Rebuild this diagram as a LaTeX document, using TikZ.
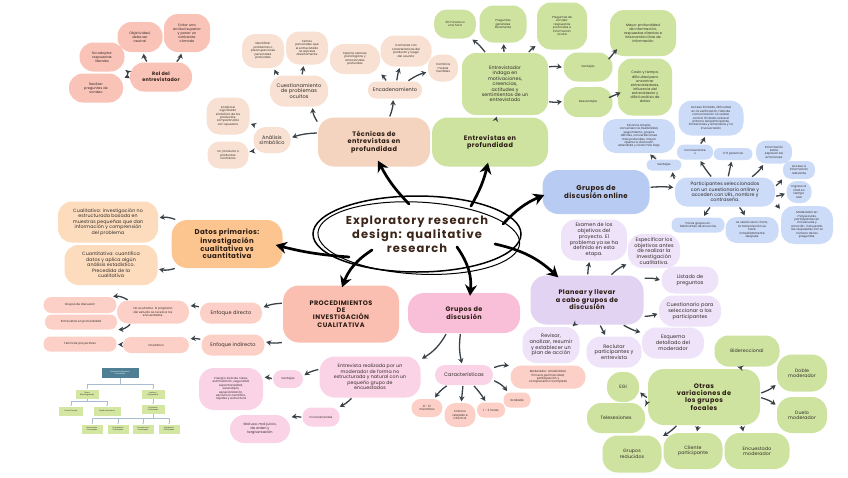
\documentclass[tikz,border=0pt]{standalone}
\usepackage{fontspec}
\setmainfont{Poppins}[LetterSpace=2]
\usetikzlibrary{arrows.meta,calc}
\definecolor{txt}{HTML}{2E2926}
\definecolor{hd}{HTML}{2A1B12}
\definecolor{ctrc}{HTML}{3B2418}
\definecolor{arrowc}{HTML}{3A4146}
\definecolor{salm}{HTML}{FAC3B8}
\definecolor{salmb}{HTML}{FBBFB2}
\definecolor{salml}{HTML}{FDD0C7}
\definecolor{peach}{HTML}{F4D3BF}
\definecolor{peachl}{HTML}{F8E1D3}
\definecolor{grn}{HTML}{CFE3A1}
\definecolor{blu}{HTML}{B8CCF3}
\definecolor{blul}{HTML}{CCDBF8}
\definecolor{org}{HTML}{FCC590}
\definecolor{orgl}{HTML}{FDDCBE}
\definecolor{pnk}{HTML}{F9BFD9}
\definecolor{pnkl}{HTML}{FBD3E6}
\definecolor{lav}{HTML}{E3D3F2}
\definecolor{lavl}{HTML}{EEE3F8}
\definecolor{tealc}{HTML}{4F7F94}
\definecolor{cgrn}{HTML}{D3E6A2}
\definecolor{cline}{HTML}{A9BCD0}
\tikzset{
 box/.style={align=center, inner sep=0.5pt, text=txt},
 tn/.style={font=\fontsize{2.9}{3.4}\selectfont},
 xs/.style={font=\fontsize{3.4}{4.1}\selectfont},
 sm/.style={font=\fontsize{4.7}{5.4}\selectfont},
 md/.style={font=\fontsize{5}{5.8}\selectfont},
 hdr/.style={font=\fontsize{6.5}{7.4}\selectfont\bfseries\addfontfeatures{LetterSpace=6}, text=hd},
 hdrb/.style={font=\fontsize{7}{7.6}\selectfont\bfseries\addfontfeatures{LetterSpace=5}, text=hd},
 hds/.style={font=\fontsize{4.8}{5.9}\selectfont\bfseries\addfontfeatures{LetterSpace=6}, text=hd},
 arr/.style={draw=arrowc, line width=1.3pt, -{Stealth[length=5pt,width=5.5pt]}, shorten >=1.5pt, shorten <=1pt},
 big/.style={draw=black, line width=2.7pt, line cap=round, -{Stealth[length=11pt,width=12pt]}},
 cbox/.style={fill=cgrn, font=\fontsize{1.8}{2.1}\selectfont, align=center, inner sep=0.3pt, text=txt},
 cl/.style={draw=cline, line width=0.5pt, -{Latex[length=1.2pt,width=1.2pt]}},
}
\newcommand\nb[8]{\node[#1,minimum width=#5pt,minimum height=#6pt,rounded corners=#7pt] (#2) at (#3,#4) {#8};}
\begin{document}
\begin{tikzpicture}[x=1pt,y=-1pt]
\fill[white] (0,0) rectangle (848,477);
\useasboundingbox (0,0) rectangle (848,477);

% Rol del entrevistador
\nb{box,fill=salm,hds}{rol}{161}{77}{62}{29}{14}{Rol del\\entrevistador}
\nb{box,fill=salm,xs}{obj}{140}{37}{45}{30}{14}{Objetividad,\\debe ser\\neutral}
\nb{box,fill=salm,xs}{evit}{187}{33}{46}{38}{14}{Evitar una\\actitud superior\\y poner un\\ambiente\\cómodo}
\nb{box,fill=salm,xs}{noad}{102}{57}{45}{29}{14}{No adoptar\\respuestas\\literales}
\nb{box,fill=salm,xs}{real}{96}{88}{54}{29}{14}{Realizar\\preguntas de\\sondeo}

% Tecnicas
\nb{box,fill=peach,hdr}{tec}{374}{142}{112}{49}{16}{Técnicas de\\entrevistas en\\profundidad}
\nb{box,fill=peachl,md}{cues}{299}{91}{58}{31}{14}{Cuestionamiento\\de problemas\\ocultos}
\nb{box,fill=peachl,tn}{ident}{263}{51}{42}{34}{13}{Identificar\\problemas o\\preocupaciones\\personales\\profundas}
\nb{box,fill=peachl,tn}{temas}{307}{48}{42}{33}{13}{Temas\\personales que\\el entrevistado\\no expresa\\abiertamente}
\nb{box,fill=peachl,md}{anal}{272}{140}{37}{26}{12}{Análisis\\simbólico}
\nb{box,fill=peachl,tn}{analiza}{228}{116}{43}{37}{13}{Analiza el\\significado\\simbólico de los\\productos,\\comparándolo\\con opuestos}
\nb{box,fill=peachl,tn}{nopro}{228}{155}{41}{27}{12}{no-producto o\\productos\\contrarios}
\nb{box,fill=peachl,md}{enca}{395}{90}{54}{17}{8}{Encadenamiento}
\nb{box,fill=peachl,tn}{expl}{355}{59}{50}{30}{14}{Explora razones\\psicológicas y\\emocionales\\profundas}
\nb{box,fill=peachl,tn}{comi}{406}{51}{51}{31}{14}{Comienza con\\características del\\producto y luego\\del usuario}
\nb{box,fill=peachl,tn}{comb}{443}{68}{30}{27}{12}{Combina\\mapas\\mentales}

% Entrevistas
\nb{box,fill=grn,hdr}{ent}{490}{142}{116}{49}{16}{Entrevistas en\\profundidad}
\nb{box,fill=grn,sm}{indaga}{505}{84}{86}{62}{14}{Entrevistador\\indaga en\\motivaciones,\\creencias,\\actitudes y\\sentimientos de un\\entrevistado}
\nb{box,fill=grn,tn}{min30}{455}{24}{42}{29}{13}{30 minutos a\\una hora}
\nb{box,fill=grn,tn}{pregen}{503}{24}{47}{37}{14}{Preguntas\\generales\\libremente}
\nb{box,fill=grn,tn}{preson}{562}{26}{50}{47}{14}{Preguntas de\\sondeo:\\respuestas\\profundas e\\información\\oculta}
\nb{box,fill=grn,tn}{vent}{588}{67}{49}{29}{14}{Ventajas}
\nb{box,fill=grn,tn}{desv}{588}{102}{49}{30}{14}{Desventajas}
\nb{box,fill=grn,xs}{mayor}{643}{33}{66}{46}{14}{Mayor profundidad\\de información,\\respuestas directas e\\intercambio libre de\\información}
\nb{box,fill=grn,xs}{costo}{645}{87}{54}{57}{14}{Costo y tiempo,\\dificultad para\\encontrar\\entrevistadores,\\influencia del\\entrevistador y\\difícil análisis de\\datos}

% Online
\nb{box,fill=blu,hdrb}{onl}{596}{192}{107}{44}{16}{Grupos de\\discusión online}
\nb{box,fill=blul,sm}{part}{725}{192}{100}{29}{12}{Participantes seleccionados\\con un cuestionario online y\\acceden con URL, nombre y\\contraseña.}
\nb{box,fill=blul,tn}{ventb}{664}{165}{35}{11}{5}{Ventajas}
\nb{box,fill=blul,tn}{alc}{639}{136}{72}{34}{13}{Alcance amplio,\\conveniencia, flexibilidad,\\seguimiento, grupos\\difíciles, conversaciones\\más profundas, mayor\\apertura, discusión\\extendida y costo más bajo}
\nb{box,fill=blul,tn}{inco}{695}{152}{36}{15}{7}{Inconveniente\\s}
\nb{box,fill=blul,tn}{acc}{711}{118}{65}{35}{13}{Acceso limitado, dificultad\\en la verificación, falta de\\comunicación no verbal,\\control limitado sobre el\\entorno del participante,\\limitaciones y amenazas y no\\involucración}
\nb{box,fill=blul,tn}{cuatro}{733}{154}{39}{12}{6}{4-6 personas}
\nb{box,fill=blul,tn}{info}{774}{152}{36}{23}{10}{Información\\sobre\\expresar las\\emociones}
\nb{box,fill=blul,tn}{accrel}{799}{170}{32}{18}{8}{Acceso a\\información\\relevante}
\nb{box,fill=blul,tn}{ingr}{799}{192}{25}{22}{10}{Ingreso al\\chat en\\tiempo\\real}
\nb{box,fill=blul,tn}{moder}{807}{225}{52}{38}{13}{Moderador en\\mayúsculas,\\participantes en\\minúsculas y\\emoción, incluyendo\\las respuestas con el\\número de las\\preguntas.}
\nb{box,fill=blul,tn}{pocos}{698}{225}{53}{15}{7}{Pocos grupos en\\fabricantes de anuncios}
\nb{box,fill=blul,tn}{sesion}{752}{230}{53}{26}{11}{La sesión dura 1 hora,\\la transcripción se\\hace\\inmediatamente\\después}

% Datos primarios
\nb{box,fill=org,hdrb}{datos}{227}{244}{111}{48}{16}{Datos primarios:\\investigación\\cualitativa vs\\cuantitativa}
\nb{box,fill=orgl,sm}{cual}{108}{222}{100}{41}{14}{Cualitativa: investigación no\\estructurada basada en\\muestras pequeñas que dan\\información y comprensión\\del problema}
\nb{box,fill=orgl,sm}{cuant}{111}{265}{93}{40}{14}{Cuantitativa: cuantifica\\datos y aplica algún\\análisis estadístico.\\Precedida de la\\cualitativa}

% Procedimientos
\nb{box,fill=salmb,hdr}{proc}{341}{314}{116}{57}{16}{PROCEDIMIENTOS\\DE\\INVESTIGACIÓN\\CUALITATIVA}
\nb{box,fill=salml,md}{edir}{231}{313}{62}{21}{10}{Enfoque directo}
\nb{box,fill=salml,md}{eind}{233}{345}{63}{21}{10}{Enfoque indirecto}
\nb{box,fill=salml,tn}{noocu}{153}{312}{72}{23}{11}{No ocultativo. El propósito\\del estudio se revela a los\\encuestados.}
\nb{box,fill=salml,tn}{gdisc}{80}{305}{73}{16}{8}{Grupos de discusión}
\nb{box,fill=salml,tn}{eprof}{81}{322}{72}{15}{7}{Entrevistas en profundidad}
\nb{box,fill=salml,tn}{ocul}{156}{345}{66}{16}{8}{Ocultativo}
\nb{box,fill=salml,tn}{tproy}{80}{344}{73}{15}{7}{Técnicas proyectivas}

% Chart
\node[fill=tealc,text=white,font=\fontsize{1.8}{2.1}\selectfont,align=center,minimum width=37pt,minimum height=10pt,inner sep=0.3pt] (ch0) at (120,373) {Qualitative Research\\Procedures};
\node[cbox,minimum width=23pt,minimum height=9pt] (ch1) at (87,394) {Direct\\(Nondisguised)};
\node[cbox,minimum width=23pt,minimum height=9pt] (ch2) at (153,394) {Indirect\\(Disguised)};
\node[cbox,minimum width=24pt,minimum height=9pt] (ch3) at (71,411) {Focus Groups};
\node[cbox,minimum width=27pt,minimum height=9pt] (ch4) at (107,411) {Depth Interviews};
\node[cbox,minimum width=23pt,minimum height=9pt] (ch5) at (153,409) {Projective\\Techniques};
\node[cbox,minimum width=21pt,minimum height=9pt] (ch6) at (92,429) {Association\\Techniques};
\node[cbox,minimum width=21pt,minimum height=9pt] (ch7) at (118,429) {Completion\\Techniques};
\node[cbox,minimum width=21pt,minimum height=9pt] (ch8) at (143,429) {Construction\\Techniques};
\node[cbox,minimum width=21pt,minimum height=9pt] (ch9) at (169,429) {Expressive\\Techniques};
\draw[cl] (ch0.south) -- ++(0,6) -| (ch1.north);
\draw[cl] (ch0.south) -- ++(0,6) -| (ch2.north);
\draw[cl] (ch1.south) -- ++(0,3) -| (ch3.north);
\draw[cl] (ch1.south) -- ++(0,3) -| (ch4.north);
\draw[cl] (ch2.south) -- (ch5.north);
\draw[cl] (ch5.south) -- ++(0,5) -| (ch6.north);
\draw[cl] (ch5.south) -- ++(0,5) -| (ch7.north);
\draw[cl] (ch5.south) -- ++(0,5) -| (ch8.north);
\draw[cl] (ch5.south) -- ++(0,5) -| (ch9.north);

% Grupos de discusion
\nb{box,fill=pnk,hdr}{gd}{464}{313}{112}{40}{16}{Grupos de\\discusión}
\nb{box,fill=pnkl,sm}{entr}{370}{377}{101}{41}{15}{Entrevista realizada por un\\moderador de forma no\\estructurada y natural con un\\pequeño grupo de\\encuestados}
\nb{box,fill=pnkl,tn}{ventp}{288}{379}{30}{18}{9}{Ventajas}
\nb{box,fill=pnkl,tn}{ener}{231}{389}{64}{42}{15}{Energía, bola de nieve,\\estimulación, seguridad,\\espontaneidad,\\serendipia,\\especialización,\\escrutinio científico,\\rapidez y estructura}
\nb{box,fill=pnkl,tn}{incp}{321}{417}{37}{19}{9}{Inconvenientes}
\nb{box,fill=pnkl,xs}{mal}{260}{429}{60}{28}{14}{Mal uso, mal juicio,\\de orden y\\tergiversación}
\nb{box,fill=pnkl,md}{car}{464}{375}{58}{20}{10}{Características}
\nb{box,fill=salml,tn}{m812}{427}{408}{31}{18}{9}{8 - 12\\miembros}
\nb{box,fill=salml,tn}{ento}{460}{415}{31}{24}{11}{Entorno\\relajado e\\informal}
\nb{box,fill=salml,tn}{h13}{491}{410}{28}{15}{7}{1 - 3 horas}
\nb{box,fill=salml,tn}{grab}{517}{400}{27}{15}{7}{Grabado}
\nb{box,fill=salml,tn}{modam}{548}{377}{75}{23}{11}{Moderador: amabilidad,\\firmeza, permisividad,\\participación y\\comprensión incompleta}

% Planear
\nb{box,fill=lav,hdr}{plan}{587}{300}{113}{49}{16}{Planear y llevar\\a cabo grupos de\\discusión}
\nb{box,fill=lavl,md}{exam}{594}{240}{66}{41}{15}{Examen de los\\objetivos del\\proyecto. El\\problema ya se ha\\definido en esta\\etapa.}
\nb{box,fill=lavl,md}{espe}{654}{251}{52}{34}{14}{Especificar los\\objetivos antes\\de realizar la\\investigación\\cualitativa.}
\nb{box,fill=lavl,md}{list}{690}{280}{57}{27}{13}{Listado de\\preguntas}
\nb{box,fill=lavl,md}{cuest}{690}{311}{62}{31}{14}{Cuestionario para\\seleccionar a los\\participantes}
\nb{box,fill=lavl,md}{esq}{673}{343}{62}{31}{14}{Esquema\\detallado del\\moderador}
\nb{box,fill=lavl,md}{recl}{614}{352}{55}{31}{14}{Reclutar\\participantes y\\entrevista}
\nb{box,fill=lavl,md}{revi}{551}{345}{57}{36}{14}{Revisar,\\analizar, resumir\\y establecer un\\plan de acción}

% Otras variaciones
\nb{box,fill=grn,hdr}{otras}{704}{397}{112}{56}{16}{Otras\\variaciones de\\los grupos\\focales}
\nb{box,fill=grn,sm}{bid}{747}{351}{65}{31}{14}{Bidereccional}
\nb{box,fill=grn,sm}{doble}{802}{373}{50}{37}{15}{Doble\\moderador}
\nb{box,fill=grn,sm}{duelo}{802}{415}{50}{36}{15}{Duelo\\moderador}
\nb{box,fill=grn,sm}{encm}{757}{451}{65}{36}{15}{Encuestado\\moderador}
\nb{box,fill=grn,sm}{clie}{693}{451}{59}{36}{15}{Cliente\\participante}
\nb{box,fill=grn,sm}{grred}{632}{454}{59}{37}{15}{Grupos\\reducidos}
\nb{box,fill=grn,sm}{teles}{616}{418}{58}{30}{14}{Telesesiones}
\nb{box,fill=grn,sm}{egi}{623}{387}{32}{30}{14}{EGI}

% Center
\node[align=center,text=ctrc,font=\fontsize{11.5}{14}\selectfont\bfseries\addfontfeatures{LetterSpace=9}] (ctr) at (417,234) {Exploratory research\\design: qualitative\\research};
\draw[line width=1.5pt] (ctr.center) ellipse [x radius=104pt, y radius=38pt];
\draw[line width=1pt, rotate around={-3:(ctr.center)}] ($(ctr.center)+(2,4)$) ellipse [x radius=101pt, y radius=36pt];

% Big arrows
\draw[big] ($(ctr.center)+(-8,-30)$) to[bend left=8] ($(tec.south)+(4,-6)$);
\draw[big] ($(ctr.center)+(54,-28)$) to[bend right=8] ($(ent.south)+(-2,-4)$);
\draw[big] ($(ctr.center)+(86,-10)$) to[bend left=12] ($(onl.west)+(2,3)$);
\draw[big] ($(ctr.center)+(78,10)$) to[bend left=15] ($(plan.north west)+(28,2)$);
\draw[big] ($(ctr.center)+(40,13)$) to[bend left=20] ($(gd.north)+(6,3)$);
\draw[big] ($(ctr.center)+(-45,16)$) to[bend right=18] ($(proc.north)+(1,2)$);
\draw[big] ($(ctr.center)+(-68,23)$) to[bend left=5] ($(datos.east)+(-7,1)$);

% Arrows Rol
\draw[arr] (rol) to[bend left=15] (obj);
\draw[arr] (rol) to[bend right=15] (evit);
\draw[arr] (rol) to[bend left=10] (noad);
\draw[arr] (rol) to[bend right=10] (real);
% Arrows Tecnicas
\draw[arr] (tec) to[bend left=15] (cues);
\draw[arr] (tec) to[bend right=8] (anal);
\draw[arr] (tec) to[bend right=10] (enca);
\draw[arr] (cues) to[bend left=10] (ident);
\draw[arr] (cues) to (temas);
\draw[arr] (anal) to[bend right=10] (analiza);
\draw[arr] (anal) to[bend left=10] (nopro);
\draw[arr] (enca) to[bend right=8] (expl);
\draw[arr] (enca) to[bend left=5] (comi);
\draw[arr] (enca) to[bend left=10] (comb);
% Arrows Entrevistas
\draw[arr] (ent) to (indaga);
\draw[arr] (indaga) to[bend right=8] (min30);
\draw[arr] (indaga) to (pregen);
\draw[arr] (indaga) to[bend left=8] (preson);
\draw[arr] (indaga) to[bend left=10] (vent);
\draw[arr] (indaga) to[bend right=10] (desv);
\draw[arr] ($(vent.center)+(20,-7)$) to ($(mayor.center)+(-25,15)$);
\draw[arr] ($(desv.center)+(20,-4)$) to ($(costo.center)+(-23,5)$);
% Arrows Online
\draw[arr] (onl) to[bend left=5] (part);
\draw[arr] (part) to[bend left=10] (ventb);
\draw[arr] (ventb) to[bend left=10] (alc);
\draw[arr] (part) to[bend left=5] (inco);
\draw[arr] (inco) to[bend right=8] (acc);
\draw[arr] (part) to (cuatro);
\draw[arr] (part) to[bend right=10] (info);
\draw[arr] (part) to[bend right=10] (accrel);
\draw[arr] (part) to[bend right=5] (ingr);
\draw[arr] (part) to[bend left=8] (moder);
\draw[arr] (part) to[bend right=5] (pocos);
\draw[arr] (part) to[bend left=8] (sesion);
% Arrows Datos
\draw[arr] (datos) to[bend right=15] (cual);
\draw[arr] (datos) to[bend left=15] (cuant);
% Arrows Procedimientos
\draw[arr] (proc) to[bend right=10] (edir);
\draw[arr] (proc) to[bend left=10] (eind);
\draw[arr] (edir) to[bend right=10] (noocu);
\draw[arr] (noocu) to[bend right=20] (gdisc);
\draw[arr] (noocu) to[bend left=20] (eprof);
\draw[arr] (eind) to[bend right=10] (ocul);
\draw[arr] (ocul) to (tproy);
% Arrows Grupos de discusion
\draw[arr] (gd) to[bend left=15] (entr);
\draw[arr] (gd) to[bend right=10] (car);
\draw[arr] (entr) to[bend right=10] (ventp);
\draw[arr] (ventp) to[bend right=10] (ener);
\draw[arr] (entr) to[bend left=10] (incp);
\draw[arr] (incp) to[bend right=10] (mal);
\draw[arr] (car) to[bend right=10] (m812);
\draw[arr] (car) to (ento);
\draw[arr] (car) to[bend left=5] (h13);
\draw[arr] (car) to[bend left=15] (grab);
\draw[arr] (car) to[bend left=15] (modam);
% Arrows Planear
\draw[arr] (plan) to[bend left=5] (exam);
\draw[arr] (plan) to[bend left=10] (espe);
\draw[arr] (plan) to[bend left=10] (list);
\draw[arr] (plan) to[bend right=10] (cuest);
\draw[arr] (plan) to[bend right=8] (esq);
\draw[arr] (plan) to (recl);
\draw[arr] (plan) to[bend left=10] (revi);
% Arrows Otras
\draw[arr] (otras) to[bend right=10] (bid);
\draw[arr] (otras) to[bend right=10] (doble);
\draw[arr] (otras) to[bend left=10] (duelo);
\draw[arr] (otras) to[bend left=8] (encm);
\draw[arr] (otras) to (clie);
\draw[arr] (otras) to[bend left=8] (grred);
\draw[arr] (otras) to[bend right=8] (teles);
\draw[arr] (otras) to[bend left=8] (egi);
\end{tikzpicture}
\end{document}
